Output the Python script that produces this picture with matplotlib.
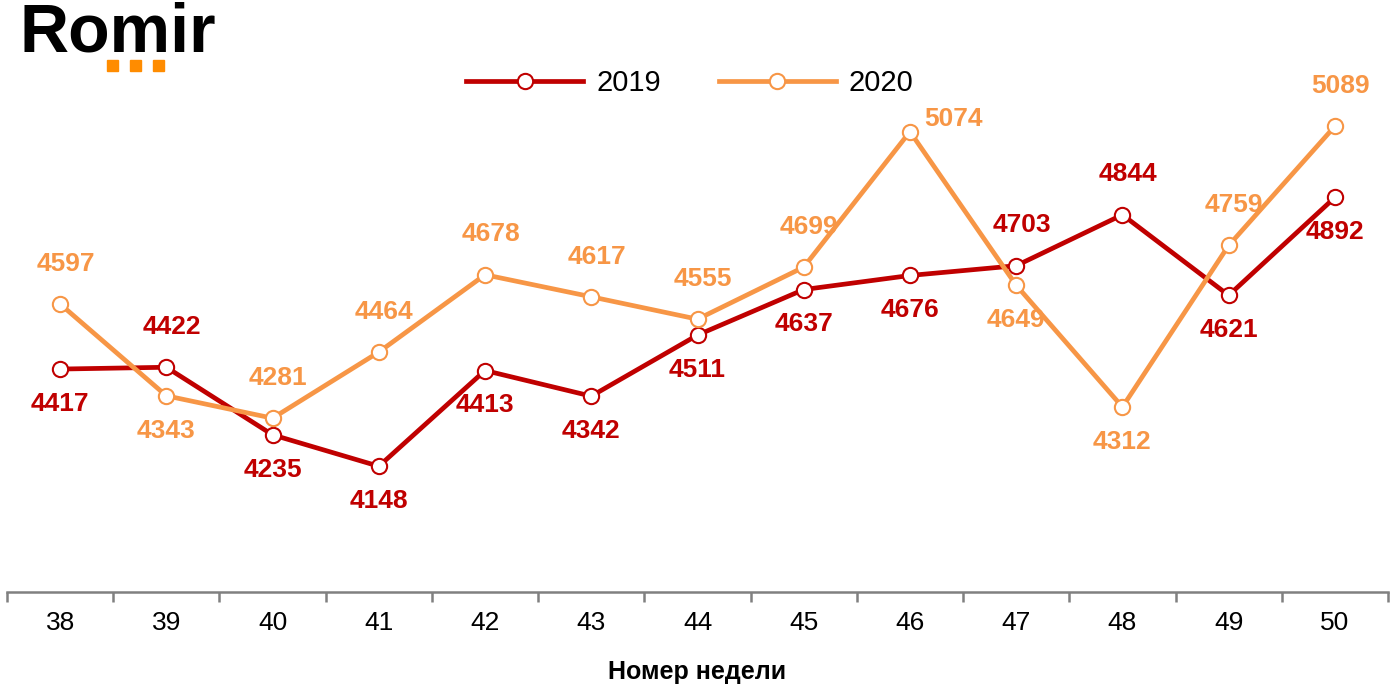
import matplotlib.pyplot as plt
from matplotlib.patches import Rectangle

plt.rcParams['font.family'] = ['Liberation Sans', 'DejaVu Sans']

# Data
weeks = ['38', '39', '40', '41', '42', '43', '44', '45', '46', '47', '48', '49', '50']
v2019 = [4417, 4422, 4235, 4148, 4413, 4342, 4511, 4637, 4676, 4703, 4844, 4621, 4892]
v2020 = [4597, 4343, 4281, 4464, 4678, 4617, 4555, 4699, 5074, 4649, 4312, 4759, 5089]

# where each value label sits relative to its point
pos2019 = ['below', 'above', 'below', 'below', 'below', 'below', 'below',
           'below', 'below', 'above', 'above', 'below', 'below']
pos2020 = ['above', 'below', 'above', 'above', 'above', 'above', 'above',
           'above', 'right', 'below', 'below', 'above', 'above']

c2019 = '#C00000'
c2020 = '#F79646'

fig = plt.figure(figsize=(13.94, 6.99), dpi=100)
ax = fig.add_axes([7 / 1394, 1 - 592 / 699, 1381 / 1394, (592 - 50) / 699])

x = list(range(len(weeks)))
ax.plot(x, v2019, color=c2019, lw=3.4, marker='o', ms=11, mfc='white',
        mec=c2019, mew=1.5, label='2019', zorder=3)
ax.plot(x, v2020, color=c2020, lw=3.4, marker='o', ms=11, mfc='white',
        mec=c2020, mew=1.5, label='2020', zorder=3)

offsets = {'above': (4, 29), 'below': (0, -25), 'right': (31, 9)}


def put_labels(vals, where, color):
    for i, (v, p) in enumerate(zip(vals, where)):
        ax.annotate(str(v), (i, v), xytext=offsets[p], textcoords='offset points',
                    ha='center', va='center', fontsize=19, fontweight='bold',
                    color=color)


put_labels(v2019, pos2019, c2019)
put_labels(v2020, pos2020, c2020)

ax.set_xlim(-0.5, len(weeks) - 0.5)
ax.set_ylim(3800, 5300)
ax.set_yticks([])
for s in ['left', 'right', 'top']:
    ax.spines[s].set_visible(False)
ax.spines['bottom'].set_color('#808080')
ax.spines['bottom'].set_linewidth(1.8)

ax.set_xticks(x)
ax.set_xticklabels(weeks, fontsize=19)
ax.tick_params(axis='x', which='major', length=0, pad=14)
ax.set_xticks([i - 0.5 for i in range(len(weeks) + 1)], minor=True)
ax.tick_params(axis='x', which='minor', length=7, width=1.8, color='#808080')
ax.set_xlabel('Номер недели', fontsize=18, fontweight='bold', labelpad=18)

fig.legend(loc='center', bbox_to_anchor=(690 / 1394, 1 - 83 / 699), ncol=2,
           frameon=False, fontsize=21, handlelength=4.0, handletextpad=0.45,
           columnspacing=2.0)

# logo
fig.text(20 / 1394, 1 - 34 / 699, 'Romir', fontsize=49, fontweight='bold',
         color='black', va='center', ha='left')
for k in range(3):
    fig.patches.append(Rectangle(((107 + k * 23) / 1394, 1 - 71 / 699), 11 / 1394, 11 / 699,
                                 transform=fig.transFigure, color='#FF8C00'))

fig.savefig('out.png', dpi=100)
